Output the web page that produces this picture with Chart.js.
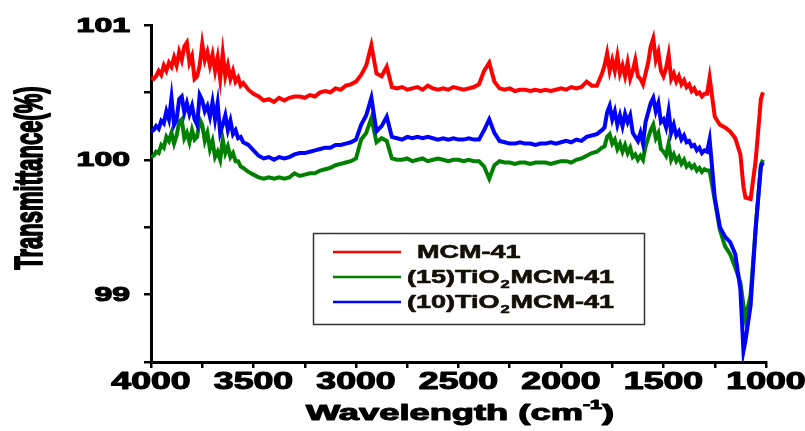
<!DOCTYPE html>
<html>
<head>
<meta charset="utf-8">
<script src="https://cdn.jsdelivr.net/npm/chart.js@4.4.1/dist/chart.umd.min.js"></script>
<style>
  body { margin: 0; background: #fff; }
  canvas { display: block; }
</style>
</head>
<body>
<canvas id="c" width="805" height="431"></canvas>
<script>
// wavenumbers (cm-1); finer steps where the spectra are noisy
const wavenumbers = [
  4000, 3987.5, 3975, 3962.5, 3950, 3937.5, 3925, 3912.5, 3900, 3887.5,
  3875, 3862.5, 3850, 3837.5, 3825, 3812.5, 3800, 3787.5, 3775, 3762.5,
  3750, 3737.5, 3725, 3712.5, 3700, 3687.5, 3675, 3662.5, 3650, 3637.5,
  3625, 3612.5, 3600, 3587.5, 3575, 3562.5, 3550,
  3525, 3500, 3475, 3450, 3425, 3400, 3375, 3350, 3325, 3300,
  3275, 3250, 3225, 3200, 3175, 3150, 3125, 3100, 3075, 3050,
  3025, 3000, 2975, 2950, 2925, 2900, 2875, 2850, 2825, 2800,
  2775, 2750, 2725, 2700, 2675, 2650, 2625, 2600, 2575, 2550,
  2525, 2500, 2475, 2450, 2425, 2400, 2375, 2350, 2325, 2300,
  2275, 2250, 2225, 2200, 2175, 2150, 2125, 2100, 2075, 2050,
  2025, 2000, 1975, 1950, 1925, 1900, 1875, 1850, 1825, 1800,
  1787.5, 1775, 1762.5, 1750, 1737.5, 1725, 1712.5, 1700, 1687.5, 1675,
  1662.5, 1650, 1637.5, 1625, 1612.5, 1600, 1587.5, 1575, 1562.5, 1550,
  1537.5, 1525, 1512.5, 1500, 1487.5, 1475, 1462.5, 1450, 1437.5, 1425,
  1412.5, 1400, 1387.5, 1375, 1362.5, 1350, 1337.5, 1325, 1312.5, 1300,
  1287.5, 1275,
  1250, 1225, 1200, 1175, 1150, 1125, 1110, 1100, 1075, 1050, 1025, 1015
];

// transmittance (%) for each sample
const mcm41 = [
  100.61, 100.60, 100.62, 100.66, 100.63, 100.70, 100.66, 100.72, 100.69, 100.76,
  100.70, 100.80, 100.74, 100.84, 100.87, 100.72, 100.77, 100.60, 100.62, 100.70,
  100.86, 100.74, 100.80, 100.70, 100.78, 100.66, 100.76, 100.60, 100.79, 100.62,
  100.70, 100.60, 100.66, 100.58, 100.61, 100.55, 100.57,
  100.52, 100.49, 100.47, 100.44, 100.45, 100.43, 100.46, 100.44, 100.46, 100.47,
  100.47, 100.46, 100.48, 100.47, 100.50, 100.51, 100.50, 100.53, 100.52, 100.55,
  100.56, 100.58, 100.63, 100.70, 100.85, 100.64, 100.62, 100.69, 100.54, 100.53,
  100.54, 100.52, 100.53, 100.54, 100.52, 100.55, 100.53, 100.52, 100.53, 100.52,
  100.54, 100.53, 100.52, 100.53, 100.54, 100.56, 100.66, 100.72, 100.58, 100.53,
  100.52, 100.53, 100.51, 100.52, 100.52, 100.51, 100.52, 100.51, 100.52, 100.51,
  100.52, 100.53, 100.52, 100.54, 100.53, 100.54, 100.58, 100.55, 100.55, 100.64,
  100.70, 100.79, 100.66, 100.74, 100.66, 100.77, 100.64, 100.70, 100.62, 100.72,
  100.60, 100.66, 100.74, 100.62, 100.60, 100.56, 100.64, 100.72, 100.84, 100.90,
  100.74, 100.80, 100.66, 100.62, 100.68, 100.78, 100.60, 100.64, 100.58, 100.62,
  100.56, 100.59, 100.54, 100.56, 100.51, 100.53, 100.49, 100.50, 100.47, 100.49,
  100.49, 100.61,
  100.32, 100.26, 100.24, 100.21, 100.16, 100.04, 99.80, 99.72, 99.71, 100.00, 100.45, 100.50
];

const tio2_15 = [
  100.02, 100.03, 100.06, 100.05, 100.11, 100.09, 100.17, 100.14, 100.20, 100.12,
  100.18, 100.28, 100.30, 100.16, 100.20, 100.13, 100.22, 100.15, 100.17, 100.30,
  100.26, 100.14, 100.20, 100.08, 100.14, 100.02, 100.06, 100.00, 100.15, 100.05,
  100.10, 100.02, 100.05, 99.99, 99.99, 99.95, 99.94,
  99.91, 99.89, 99.87, 99.86, 99.87, 99.86, 99.87, 99.86, 99.87, 99.90,
  99.88, 99.89, 99.90, 99.90, 99.92, 99.93, 99.94, 99.96, 99.97, 99.98,
  99.99, 100.01, 100.15, 100.20, 100.31, 100.13, 100.16, 100.14, 100.01, 100.00,
  100.00, 100.01, 99.99, 100.00, 100.01, 99.99, 100.00, 100.01, 100.00, 99.99,
  100.00, 100.00, 99.99, 100.00, 99.99, 99.99, 99.95, 99.86, 99.96, 99.99,
  99.98, 99.98, 99.97, 99.98, 99.98, 99.97, 99.98, 99.98, 99.98, 99.97,
  99.98, 99.99, 99.99, 99.98, 100.00, 100.01, 100.03, 100.05, 100.06, 100.09,
  100.10, 100.17, 100.19, 100.12, 100.15, 100.08, 100.12, 100.06, 100.11, 100.05,
  100.09, 100.02, 100.04, 100.00, 100.03, 100.00, 100.10, 100.16, 100.22, 100.26,
  100.16, 100.20, 100.08, 100.06, 100.03, 100.12, 100.00, 100.04, 99.99, 100.02,
  99.97, 100.00, 99.95, 99.97, 99.94, 99.96, 99.92, 99.94, 99.91, 99.93,
  99.92, 99.92,
  99.70, 99.48, 99.36, 99.30, 99.20, 99.09, 98.92, 98.82, 99.00, 99.50, 99.96, 100.00
];

const tio2_10 = [
  100.21, 100.22, 100.25, 100.23, 100.29, 100.27, 100.36, 100.30, 100.46, 100.26,
  100.30, 100.45, 100.47, 100.35, 100.42, 100.34, 100.40, 100.30, 100.26, 100.48,
  100.44, 100.36, 100.40, 100.32, 100.43, 100.30, 100.42, 100.20, 100.26, 100.33,
  100.22, 100.29, 100.19, 100.22, 100.16, 100.17, 100.13,
  100.11, 100.07, 100.03, 100.01, 100.02, 100.00, 100.02, 100.01, 100.02, 100.04,
  100.05, 100.05, 100.06, 100.07, 100.08, 100.09, 100.09, 100.11, 100.11, 100.12,
  100.13, 100.15, 100.26, 100.33, 100.46, 100.21, 100.25, 100.32, 100.17, 100.16,
  100.15, 100.17, 100.16, 100.17, 100.16, 100.17, 100.16, 100.15, 100.16, 100.15,
  100.16, 100.15, 100.15, 100.16, 100.15, 100.15, 100.22, 100.30, 100.20, 100.14,
  100.13, 100.12, 100.12, 100.13, 100.12, 100.12, 100.11, 100.12, 100.12, 100.13,
  100.12, 100.13, 100.14, 100.13, 100.15, 100.14, 100.17, 100.18, 100.19, 100.22,
  100.24, 100.35, 100.40, 100.30, 100.36, 100.26, 100.33, 100.25, 100.34, 100.28,
  100.33, 100.20, 100.17, 100.14, 100.20, 100.12, 100.28, 100.35, 100.42, 100.46,
  100.36, 100.42, 100.28, 100.30, 100.24, 100.36, 100.20, 100.26, 100.18, 100.21,
  100.15, 100.18, 100.13, 100.14, 100.10, 100.11, 100.07, 100.09, 100.05, 100.07,
  100.06, 100.15,
  99.72, 99.50, 99.43, 99.39, 99.30, 99.04, 98.58, 98.66, 98.92, 99.50, 99.95, 99.98
];

const seriesColors = ['#ff0000', '#008000', '#0000ff'];
const xTicks = [4000, 3500, 3000, 2500, 2000, 1500, 1000];
const yTicks = [99, 100, 101];

const FONT = '"Liberation Sans", Arial, sans-serif';

// draws text stretched horizontally, like the original picture
const wideText = (ctx, text, x, y, sx, align) => {
  ctx.save();
  ctx.translate(x, y);
  ctx.scale(sx, 1);
  ctx.textAlign = align;
  ctx.fillText(text, 0, 0);
  ctx.strokeText(text, 0, 0);
  ctx.restore();
};

const textPlugin = {
  id: 'stretchedText',
  afterDraw: (chart) => {
    const ctx = chart.ctx;
    const xs = chart.scales.x;
    const ys = chart.scales.y;
    ctx.save();
    ctx.fillStyle = '#000';
    ctx.strokeStyle = '#000';
    ctx.lineWidth = 1.1;
    ctx.lineJoin = 'round';
    ctx.textBaseline = 'middle';

    // y tick labels
    ctx.font = 'bold 20px ' + FONT;
    for (const v of yTicks) {
      wideText(ctx, String(v), 130, ys.getPixelForValue(v) + 1, 1.6, 'right');
    }
    // x tick labels
    ctx.font = 'bold 23px ' + FONT;
    for (const v of xTicks) {
      wideText(ctx, String(v), xs.getPixelForValue(v), 383, 1.55, 'center');
    }

    // x title with superscript
    const sx = 1.65;
    ctx.font = 'bold 22px ' + FONT;
    const a = 'Wavelength (cm';
    const wa = ctx.measureText(a).width * sx;
    const wc = ctx.measureText(')').width * sx;
    ctx.font = 'bold 13px ' + FONT;
    const wb = ctx.measureText('-1').width * sx;
    const left = 460 - (wa + wb + wc) / 2;
    ctx.font = 'bold 22px ' + FONT;
    wideText(ctx, a, left, 414, sx, 'left');
    ctx.font = 'bold 13px ' + FONT;
    wideText(ctx, '-1', left + wa, 405, sx, 'left');
    ctx.font = 'bold 22px ' + FONT;
    wideText(ctx, ')', left + wa + wb, 414, sx, 'left');

    // y title, rotated
    ctx.save();
    ctx.translate(31, 178);
    ctx.rotate(-Math.PI / 2);
    ctx.scale(1, 1.75);
    ctx.font = 'bold 22px ' + FONT;
    ctx.textAlign = 'center';
    ctx.fillText('Transmittance(%)', 0, 0);
    ctx.strokeText('Transmittance(%)', 0, 0);
    ctx.restore();

    // legend box
    ctx.lineWidth = 1.5;
    ctx.strokeStyle = '#333';
    ctx.strokeRect(313.5, 233.5, 331, 91);
    const rows = [252, 277, 302];
    for (let i = 0; i < 3; i++) {
      ctx.strokeStyle = seriesColors[i];
      ctx.lineWidth = 2.5;
      ctx.beginPath();
      ctx.moveTo(333, rows[i]);
      ctx.lineTo(401, rows[i]);
      ctx.stroke();
    }
    ctx.fillStyle = '#141008';
    ctx.strokeStyle = '#141008';
    ctx.lineWidth = 0.6;
    ctx.font = 'bold 18px ' + FONT;
    const ls = 1.5;
    wideText(ctx, 'MCM-41', 417, rows[0] + 1, ls, 'left');
    for (let i = 1; i < 3; i++) {
      ctx.font = 'bold 18px ' + FONT;
      const p = i == 1 ? '(15)TiO' : '(10)TiO';
      const wp = ctx.measureText(p).width * ls;
      wideText(ctx, p, 407, rows[i] + 1, ls, 'left');
      ctx.font = 'bold 11px ' + FONT;
      wideText(ctx, '2', 407 + wp + 1, rows[i] + 8, ls, 'left');
      ctx.font = 'bold 18px ' + FONT;
      wideText(ctx, 'MCM-41', 407 + wp + 11, rows[i] + 1, ls, 'left');
    }
    ctx.restore();
  }
};

const toPoints = (vals) => wavenumbers.map((w, i) => ({ x: w, y: vals[i] }));

new Chart(document.getElementById('c'), {
  type: 'line',
  data: {
    datasets: [
      { label: 'MCM-41', data: toPoints(mcm41), borderColor: seriesColors[0], order: 2 },
      { label: '(15)TiO2MCM-41', data: toPoints(tio2_15), borderColor: seriesColors[1], order: 1 },
      { label: '(10)TiO2MCM-41', data: toPoints(tio2_10), borderColor: seriesColors[2], order: 0 }
    ]
  },
  options: {
    responsive: false,
    animation: false,
    devicePixelRatio: 1,
    layout: { padding: { left: 141, top: 25, right: 39, bottom: 59 } },
    elements: {
      line: { borderWidth: 4, tension: 0, borderJoinStyle: 'miter' },
      point: { radius: 0 }
    },
    plugins: {
      legend: { display: false },
      tooltip: { enabled: false }
    },
    scales: {
      x: {
        type: 'linear',
        reverse: true,
        min: 1000,
        max: 4000,
        afterFit: (s) => { s.height = 10; },
        ticks: { display: false, stepSize: 250 },
        grid: { drawOnChartArea: false, drawTicks: true, tickLength: 6, color: '#000', lineWidth: 2.5 },
        border: { display: true, color: '#000', width: 3 }
      },
      y: {
        min: 98.5,
        max: 101,
        afterFit: (s) => { s.width = 10; },
        ticks: { display: false, stepSize: 0.5 },
        grid: { drawOnChartArea: false, drawTicks: true, tickLength: 7, color: '#000', lineWidth: 2.5 },
        border: { display: true, color: '#000', width: 3 }
      }
    }
  },
  plugins: [textPlugin]
});
</script>
</body>
</html>
